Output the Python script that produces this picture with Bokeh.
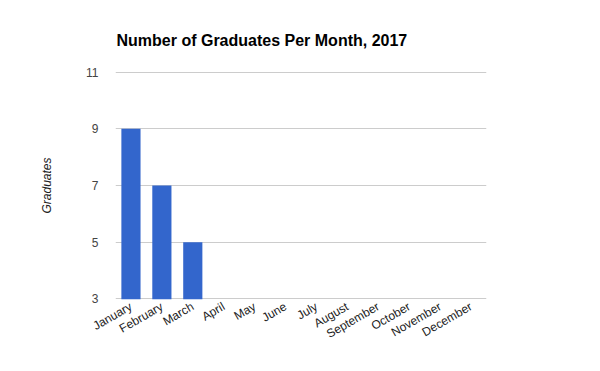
import math
from bokeh.plotting import figure
from bokeh.models import ColumnDataSource, FixedTicker, Range1d, CDSView, BooleanFilter
from bokeh.embed import file_html
from bokeh.resources import INLINE

months = ["January", "February", "March", "April", "May", "June", "July",
          "August", "September", "October", "November", "December"]
graduates = [9, 7, 5, 0, 0, 0, 0, 0, 0, 0, 0, 0]
y_ticks = [3, 5, 7, 9, 11]

src = ColumnDataSource(dict(month=months, grads=graduates))
view = CDSView(filter=BooleanFilter([g > 0 for g in graduates]))

p = figure(x_range=months, y_range=Range1d(2.98, 11.02), width=600, height=371,
           output_backend="svg", toolbar_location=None,
           title="Number of Graduates Per Month, 2017",
           min_border_left=115, min_border_right=114,
           min_border_top=71, min_border_bottom=72)

p.vbar(x="month", top="grads", bottom=0, width=0.62, source=src, view=view,
       fill_color="#3366cc", line_color=None)

p.title.text_font = "Liberation Sans"
p.title.text_font_size = "16px"
p.title.text_font_style = "bold"
p.title.text_color = "#000000"
p.title.align = "left"
p.title.vertical_align = "top"
p.title.offset = 1
p.title.standoff = 42

p.outline_line_color = None
p.background_fill_color = "white"
p.border_fill_color = "white"

p.xgrid.grid_line_color = None
p.ygrid.grid_line_color = "#cccccc"
p.ygrid.grid_line_width = 1

p.yaxis.ticker = FixedTicker(ticks=y_ticks)
p.yaxis.axis_line_color = None
p.yaxis.major_tick_line_color = None
p.yaxis.minor_tick_line_color = None
p.yaxis.major_label_text_font = "Liberation Sans"
p.yaxis.major_label_text_font_size = "12px"
p.yaxis.major_label_text_color = "#444444"
p.yaxis.major_label_standoff = 11
p.yaxis.axis_label = "Graduates"
p.yaxis.axis_label_text_font = "Liberation Sans"
p.yaxis.axis_label_text_font_size = "12px"
p.yaxis.axis_label_text_font_style = "italic"
p.yaxis.axis_label_text_color = "#222222"
p.yaxis.axis_label_standoff = 29

p.xaxis.axis_line_color = None
p.xaxis.major_tick_line_color = None
p.xaxis.minor_tick_line_color = None
p.xaxis.major_label_text_font = "Liberation Sans"
p.xaxis.major_label_text_font_size = "12px"
p.xaxis.major_label_text_color = "#222222"
p.xaxis.major_label_orientation = math.pi / 6
p.xaxis.major_label_standoff = 0

open("out.html", "w").write(file_html(p, INLINE))
